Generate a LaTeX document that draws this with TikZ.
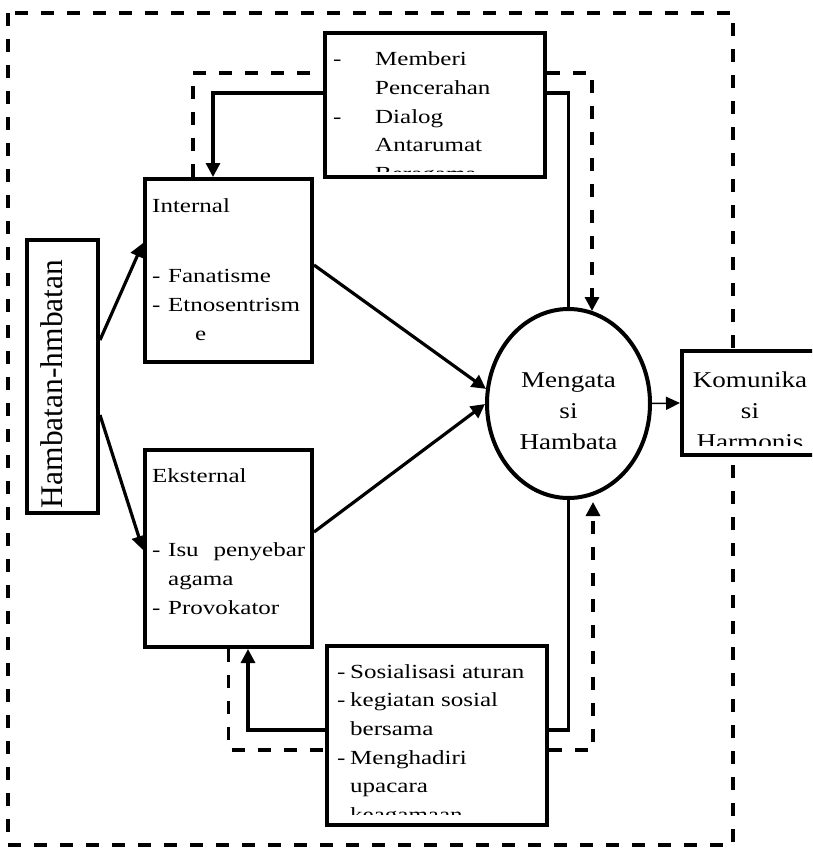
\documentclass[tikz,border=0pt]{standalone}
\usepackage{fontspec}
\setmainfont{Liberation Serif}
\newfontfamily\widefont{Liberation Serif}[FakeStretch=1.25]
\newfontfamily\midfont{Liberation Serif}[FakeStretch=1.2]
\usepackage{tikz}
\usetikzlibrary{shapes.geometric}
\usetikzlibrary{calc,arrows.meta}

\begin{document}
\begin{tikzpicture}[x=1pt,y=-1pt,
	box/.style={draw,line width=4pt,fill=white,inner sep=0pt},
	txt/.style={anchor=base west,inner sep=0pt,align=left,font=\widefont\fontsize{20}{28.7}\selectfont},
	ctxt/.style={anchor=base,inner sep=0pt,align=center,font=\midfont\fontsize{22.6}{31}\selectfont},
	dashline/.style={line width=3.2pt,dash pattern=on 13pt off 13pt},
	solidline/.style={line width=3.2pt},
	arrowed/.style={-{Triangle[length=14pt,width=14pt]}}]

	\useasboundingbox (0,0) rectangle (812,848);
	\clip (0,0) rectangle (812,848);

	\draw [dashline] (8,13) rectangle (733,845);

	\node[box,minimum width=71pt,minimum height=273pt] (H) at (62.5,376.5) {};
	\node[rotate=90,anchor=base,inner sep=0pt,font=\fontsize{31.5}{31.5}\selectfont] (h) at (62,384) {Hambatan-hmbatan};

	\node[box,minimum width=167pt,minimum height=183pt] (I) at (228.5,270.5) {};
	\node[txt] (i) at (152,340.1) {Internal\\[42pt]\makebox[16pt][l]{-}Fanatisme\\\makebox[16pt][l]{-}Etnosentrism\\\hspace*{43pt}e};

	\node[box,minimum width=167pt,minimum height=197pt] (E) at (228.5,548.5) {};
	\node[txt] (e) at (152,614.1) {Eksternal\\[46pt]\makebox[16pt][l]{-}\makebox[137pt][s]{Isu penyebar}\\\hspace*{16pt}agama\\\makebox[16pt][l]{-}Provokator};

	\node[box,minimum width=220pt,minimum height=144pt] (P) at (435,105) {};
	\begin{scope}
		\clip (P.north west) rectangle ([yshift=8pt]P.south east);
		\node[txt] (p) at (333,180.5) {\makebox[42pt][l]{-}Memberi\\\hspace*{42pt}Pencerahan\\\makebox[42pt][l]{-}Dialog\\\hspace*{42pt}Antarumat\\\hspace*{42pt}Beragama};
	\end{scope}

	\node[box,minimum width=220pt,minimum height=179pt] (S) at (437,735.5) {};
	\begin{scope}
		\clip (S.north west) rectangle ([yshift=13pt]S.south east);
		\node[txt] (s) at (337,821.5) {\makebox[13pt][l]{-}Sosialisasi aturan\\\makebox[13pt][l]{-}kegiatan sosial\\\hspace*{13pt}bersama\\\makebox[13pt][l]{-}Menghadiri\\\hspace*{13pt}upacara\\\hspace*{13pt}keagamaan};
	\end{scope}

	\node[draw,ellipse,line width=4pt,fill=white,minimum width=163pt,minimum height=189pt,inner sep=0pt] (M) at (568.5,403.5) {};
	\node[ctxt] (m) at (568.5,449) {Mengata\\si\\Hambata};

	\node[box,minimum width=148pt,minimum height=104pt] (K) at (756,403) {};
	\begin{scope}
		\clip (K.north west) rectangle ([yshift=12pt]K.south east);
		\node[ctxt] (k) at (750,449) {Komunika\\si\\Harmonis};
	\end{scope}

	\coordinate (A) at (213,93);
	\coordinate (B) at (568.5,93);
	\coordinate (C) at (193,73);
	\coordinate (D) at (592,73);
	\coordinate (F) at (248,730);
	\coordinate (G) at (568.5,730);
	\coordinate (J) at (228.5,750);
	\coordinate (L) at (593,750);

	\draw [solidline,arrowed] ([yshift=36.5pt]H.east) to ([yshift=27.5pt]I.west);
	\draw [solidline,arrowed] ([yshift=-38.5pt]H.east) to ([yshift=-1.5pt]E.west);
	\draw [solidline,arrowed] ([yshift=5.5pt]I.east) to (M.170);
	\draw [solidline,arrowed] ([yshift=16.5pt]E.east) to ([yshift=-0.5pt]M.west);
	\draw [line width=1.5pt,-{Triangle[length=14pt,width=13pt]}] (M.east) to (K.west);

	\draw [solidline] (M.north) -- (B) -- (P.east |- B);
	\draw [solidline,arrowed] (P.west |- A) -- (A) -- (I.north -| A);
	\draw [dashline] (I.north -| C) -- (C) -- (P.west |- C);
	\draw [dashline,arrowed] (P.east |- D) -- (D) -- ($(M.north -| D)+(0,4)$);

	\draw [solidline] (M.south) -- (G) -- (S.east |- G);
	\draw [solidline,arrowed] (S.west |- F) -- (F) -- (E.south -| F);
	\draw [dashline] (E.south) -- (J) -- (S.west |- J);
	\draw [dashline,arrowed] (S.east |- L) -- (L) -- ($(M.south -| L)+(0,2)$);

\end{tikzpicture}
\end{document}
